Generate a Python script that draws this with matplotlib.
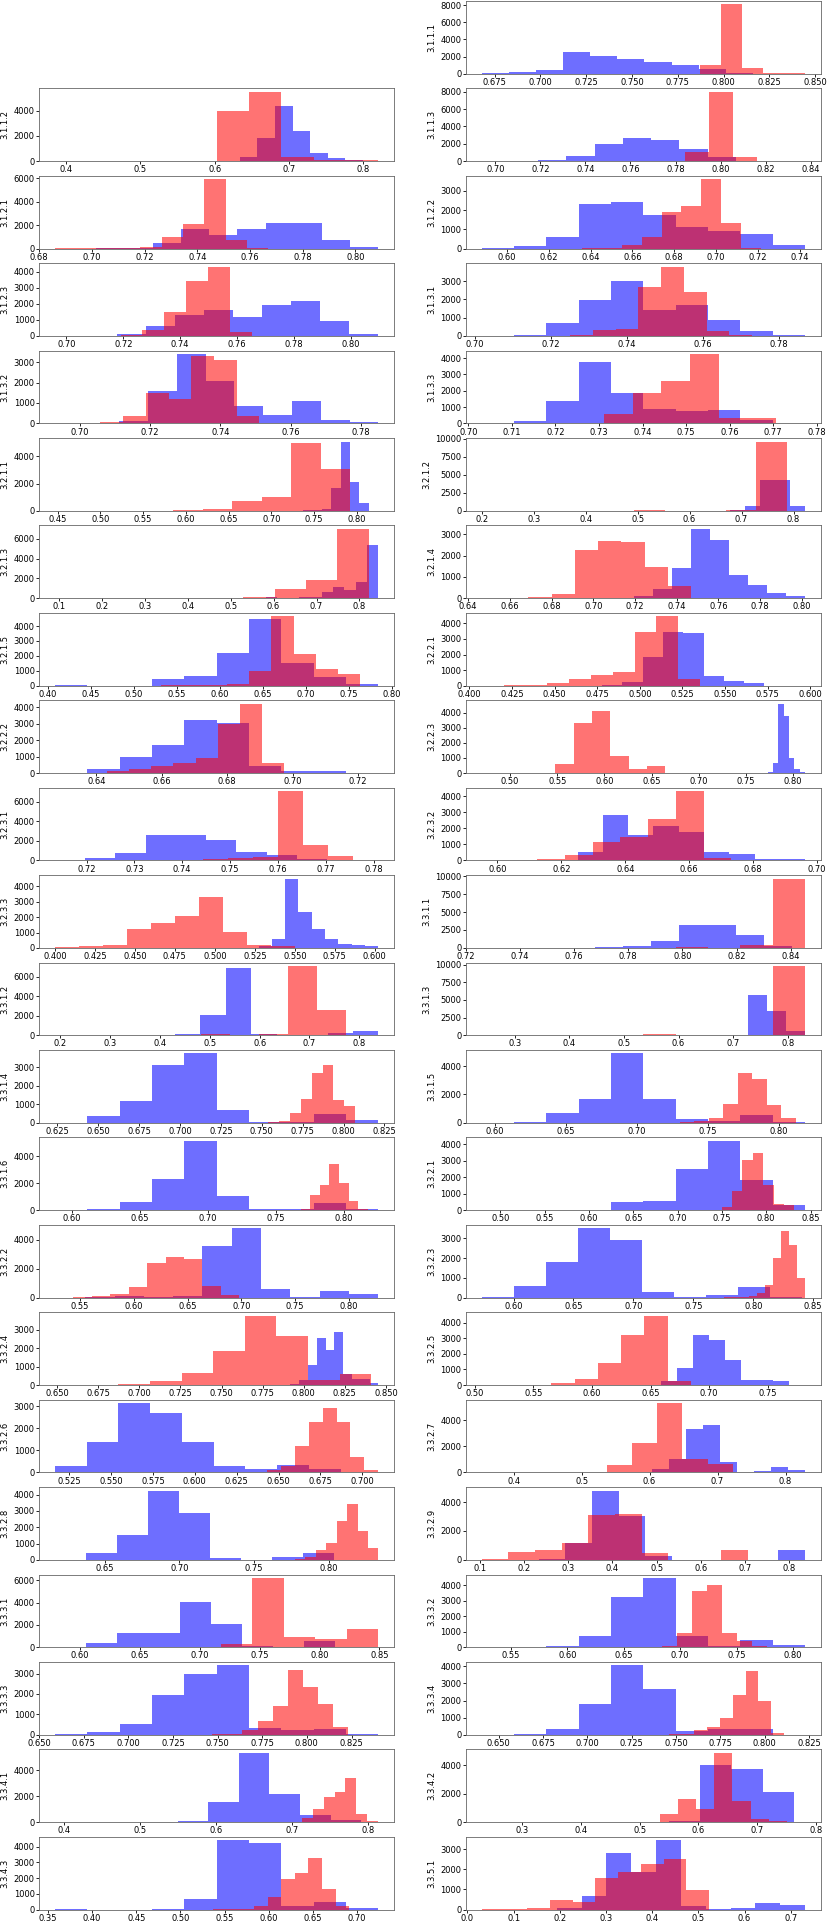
import numpy as np
import matplotlib
matplotlib.use('Agg')
import matplotlib.pyplot as plt
from matplotlib.ticker import MaxNLocator

# nombre de cada panel (el primer hueco arriba a la izquierda queda vacio)
labels = ['3.1.1.1', '3.1.1.2', '3.1.1.3', '3.1.2.1', '3.1.2.2', '3.1.2.3', '3.1.3.1',
          '3.1.3.2', '3.1.3.3', '3.2.1.1', '3.2.1.2', '3.2.1.3', '3.2.1.4', '3.2.1.5',
          '3.2.2.1', '3.2.2.2', '3.2.2.3', '3.2.3.1', '3.2.3.2', '3.2.3.3', '3.3.1.1',
          '3.3.1.2', '3.3.1.3', '3.3.1.4', '3.3.1.5', '3.3.1.6', '3.3.2.1', '3.3.2.2',
          '3.3.2.3', '3.3.2.4', '3.3.2.5', '3.3.2.6', '3.3.2.7', '3.3.2.8', '3.3.2.9',
          '3.3.3.1', '3.3.3.2', '3.3.3.3', '3.3.3.4', '3.3.4.1', '3.3.4.2', '3.3.4.3',
          '3.3.5.1']

# serie azul: rango de los 10 bins y conteos
blue_lo = [0.668, 0.563, 0.694, 0.7017, 0.588, 0.7074, 0.7019, 0.703, 0.7031, 0.7149,
           0.5343, 0.5813, 0.7105, 0.4083, 0.4778, 0.6274, 0.7564, 0.7134, 0.6172, 0.519,
           0.7367, 0.3285, 0.4871, 0.6235, 0.5907, 0.5876, 0.4791, 0.555, 0.5735, 0.7919,
           0.645, 0.5166, 0.5787, 0.6169, 0.2328, 0.5792, 0.5241, 0.659, 0.6405, 0.388,
           0.2309, 0.358, 0.1933]
blue_hi = [0.816, 0.799, 0.8193, 0.8087, 0.7425, 0.8097, 0.7869, 0.785, 0.7773, 0.8249,
           0.8222, 0.8438, 0.8015, 0.7843, 0.5969, 0.7262, 0.8128, 0.7766, 0.6962, 0.6022,
           0.8404, 0.838, 0.8314, 0.8213, 0.8187, 0.8254, 0.8438, 0.8272, 0.8405, 0.8454,
           0.7818, 0.7059, 0.8287, 0.8243, 0.8362, 0.8392, 0.8107, 0.840, 0.8228, 0.7915,
           0.7627, 0.724, 0.731]
blue_counts = [
    [30, 150, 420, 2550, 2050, 1750, 1350, 1000, 500, 50],
    [2, 5, 15, 300, 1850, 4400, 2400, 650, 250, 100],
    [2, 5, 80, 600, 2000, 2650, 2450, 1450, 500, 30],
    [5, 50, 450, 1700, 1150, 1650, 2150, 2200, 700, 100],
    [20, 120, 580, 2300, 2400, 1750, 1100, 900, 750, 200],
    [5, 100, 600, 1300, 1600, 1200, 1950, 2150, 900, 150],
    [5, 50, 700, 1950, 3000, 1450, 1700, 850, 250, 70],
    [5, 100, 1600, 3400, 2100, 850, 400, 1100, 150, 50],
    [10, 150, 1400, 3750, 1850, 900, 750, 850, 200, 50],
    [5, 10, 30, 60, 100, 1700, 5100, 2100, 600, 10],
    [0, 0, 2, 5, 10, 80, 700, 4300, 4200, 600],
    [100, 50, 30, 150, 100, 600, 1150, 850, 1600, 5400],
    [30, 80, 450, 1420, 3250, 2750, 1100, 600, 250, 100],
    [50, 0, 0, 420, 650, 2200, 4450, 1500, 550, 120],
    [30, 250, 1850, 3450, 3400, 600, 280, 150, 5, 2],
    [30, 250, 950, 1700, 3200, 3050, 400, 120, 120, 2],
    [2, 5, 20, 80, 700, 4600, 3800, 1000, 300, 100],
    [80, 220, 750, 2550, 2550, 2050, 900, 550, 200, 50],
    [50, 500, 2850, 1600, 2150, 1750, 550, 400, 100, 120],
    [20, 100, 600, 4500, 2350, 1200, 600, 250, 180, 100],
    [5, 20, 50, 150, 250, 1000, 3150, 3250, 1800, 300],
    [0, 0, 100, 2100, 6900, 100, 50, 50, 250, 450],
    [2, 0, 0, 0, 0, 0, 100, 5700, 3500, 650],
    [10, 350, 1200, 3100, 3750, 700, 50, 30, 500, 150],
    [5, 80, 720, 1700, 4900, 1650, 230, 150, 550, 30],
    [5, 50, 600, 2300, 5150, 1050, 100, 50, 500, 50],
    [20, 20, 0, 20, 500, 570, 2500, 4200, 1850, 300],
    [20, 80, 20, 80, 3600, 4800, 600, 50, 450, 250],
    [50, 580, 1800, 3500, 2900, 300, 20, 150, 520, 50],
    [50, 250, 1100, 2550, 1900, 2850, 600, 300, 300, 100],
    [30, 250, 1100, 3200, 2900, 1600, 300, 300, 250, 30],
    [300, 1400, 3150, 2700, 1400, 300, 150, 350, 150, 20],
    [5, 300, 1000, 3350, 3600, 800, 20, 80, 400, 150],
    [20, 400, 1550, 4250, 2850, 100, 20, 200, 450, 20],
    [50, 1150, 4800, 3050, 250, 0, 0, 0, 0, 700],
    [50, 350, 1250, 1300, 4050, 2100, 100, 50, 600, 50],
    [10, 30, 80, 700, 3200, 4450, 750, 100, 450, 150],
    [10, 150, 520, 1950, 3000, 3400, 350, 250, 280, 20],
    [10, 50, 320, 1800, 4050, 2700, 200, 330, 330, 10],
    [5, 0, 0, 0, 50, 1550, 5350, 2200, 580, 200],
    [5, 0, 0, 0, 0, 0, 50, 4000, 3700, 2100],
    [5, 0, 0, 50, 650, 4400, 4200, 200, 450, 100],
    [80, 650, 2800, 1850, 3450, 200, 20, 100, 350, 250],
]

# serie roja
red_lo = [0.7295, 0.385, 0.7305, 0.686, 0.6262, 0.696, 0.7132, 0.6929, 0.7113, 0.447,
          0.2, 0.0913, 0.6465, 0.5058, 0.4073, 0.6297, 0.470, 0.7286, 0.5951, 0.4001,
          0.7259, 0.1897, 0.2396, 0.7406, 0.710, 0.747, 0.7145, 0.5269, 0.776, 0.6487,
          0.5061, 0.6265, 0.3532, 0.7635, 0.104, 0.5858, 0.6445, 0.7386, 0.7387, 0.6697,
          0.4727, 0.5371, 0.031]
red_hi = [0.8445, 0.82, 0.8375, 0.767, 0.7216, 0.7728, 0.773, 0.7576, 0.7773, 0.792,
          0.787, 0.8213, 0.758, 0.7628, 0.5353, 0.6975, 0.6647, 0.781, 0.6818, 0.5501,
          0.8453, 0.7737, 0.8317, 0.8071, 0.812, 0.8176, 0.8317, 0.698, 0.8432, 0.8412,
          0.7041, 0.7095, 0.7222, 0.8331, 0.707, 0.8491, 0.7768, 0.823, 0.8109, 0.814,
          0.7818, 0.691, 0.523]
red_counts = [
    [0, 0, 0, 5, 15, 1000, 8100, 650, 30, 20],
    [3, 0, 0, 1, 2, 4000, 5500, 300, 80, 50],
    [2, 3, 5, 10, 30, 1100, 8000, 500, 20, 15],
    [2, 5, 10, 80, 170, 1000, 2100, 5900, 700, 30],
    [0, 5, 30, 200, 600, 1900, 2200, 3600, 1350, 30],
    [2, 3, 20, 60, 350, 1500, 3400, 4300, 250, 20],
    [0, 3, 30, 300, 400, 2700, 3800, 2400, 250, 70],
    [2, 5, 50, 350, 1500, 1200, 3300, 3100, 350, 40],
    [0, 5, 30, 550, 1850, 2600, 4250, 350, 300, 50],
    [0, 0, 0, 0, 50, 100, 750, 1000, 5000, 3050],
    [5, 0, 0, 0, 0, 150, 0, 0, 60, 9600],
    [20, 0, 0, 0, 0, 0, 80, 950, 1850, 7000],
    [2, 20, 70, 220, 2250, 2680, 2630, 1470, 550, 20],
    [0, 20, 30, 50, 80, 950, 4650, 2150, 1100, 800],
    [5, 10, 50, 200, 400, 700, 900, 3450, 4450, 450],
    [2, 5, 100, 250, 400, 600, 900, 2950, 4200, 600],
    [5, 0, 0, 0, 600, 3350, 4150, 1100, 250, 450],
    [2, 5, 10, 100, 250, 400, 7050, 1550, 500, 20],
    [10, 10, 100, 350, 1150, 1450, 2550, 4300, 150, 20],
    [40, 120, 200, 1250, 1600, 2050, 3300, 1050, 200, 100],
    [2, 0, 5, 10, 20, 30, 80, 20, 350, 9650],
    [0, 10, 50, 5, 20, 150, 80, 100, 7100, 2550],
    [5, 0, 0, 0, 0, 150, 0, 0, 30, 9800],
    [2, 5, 20, 80, 550, 1300, 2700, 3100, 1250, 900],
    [2, 10, 30, 100, 300, 1350, 3550, 3100, 1250, 300],
    [5, 10, 20, 80, 1100, 1900, 3450, 2050, 700, 50],
    [5, 10, 30, 200, 1150, 3050, 3450, 1550, 350, 340],
    [5, 30, 80, 250, 750, 2400, 2800, 2700, 800, 200],
    [5, 10, 30, 100, 220, 650, 2000, 3350, 2650, 1000],
    [5, 20, 50, 200, 650, 1850, 3750, 2650, 250, 600],
    [2, 5, 10, 100, 400, 1400, 3200, 4450, 250, 20],
    [5, 30, 100, 300, 1200, 2300, 2950, 2300, 700, 100],
    [2, 0, 0, 5, 30, 550, 2250, 5300, 1050, 650],
    [5, 20, 50, 150, 600, 1050, 2400, 3400, 1800, 700],
    [50, 550, 700, 1200, 3100, 3150, 500, 0, 0, 700],
    [5, 5, 10, 20, 30, 300, 6200, 900, 700, 1600],
    [5, 10, 20, 50, 900, 3600, 4000, 900, 400, 50],
    [2, 10, 30, 250, 650, 1400, 3200, 2350, 1500, 400],
    [5, 20, 60, 250, 450, 1000, 2300, 3700, 1950, 100],
    [2, 10, 30, 300, 1050, 1950, 2300, 3400, 600, 50],
    [5, 20, 600, 1600, 950, 4850, 1500, 250, 100, 20],
    [10, 20, 50, 200, 800, 1950, 2350, 3300, 1300, 250],
    [2, 5, 80, 500, 400, 1550, 1850, 2250, 2500, 950],
]

fig, axes = plt.subplots(22, 2, figsize=(8.27, 19.23), dpi=100)
fig.subplots_adjust(left=0.047, right=0.993, top=0.9995, bottom=0.007,
                    wspace=0.2, hspace=0.2025)
axes[0, 0].remove()
paneles = axes.flatten()[1:]

for i, ax in enumerate(paneles):
    # azul primero, rojo encima
    bordes = np.linspace(blue_lo[i], blue_hi[i], 11)
    centros = (bordes[:-1] + bordes[1:]) / 2
    ax.hist(centros, bins=bordes, weights=blue_counts[i], color='blue', alpha=0.57)

    bordes = np.linspace(red_lo[i], red_hi[i], 11)
    centros = (bordes[:-1] + bordes[1:]) / 2
    ax.hist(centros, bins=bordes, weights=red_counts[i], color='red', alpha=0.55)

    ax.yaxis.set_major_locator(MaxNLocator(nbins=5, steps=[1, 2, 2.5, 5, 10]))
    ax.set_ylabel(labels[i], fontsize=6, labelpad=3)
    ax.tick_params(labelsize=6, length=2, width=0.6, pad=1)
    for s in ax.spines.values():
        s.set_linewidth(0.6)
        s.set_color('#666666')

fig.savefig('out.png', dpi=100)
